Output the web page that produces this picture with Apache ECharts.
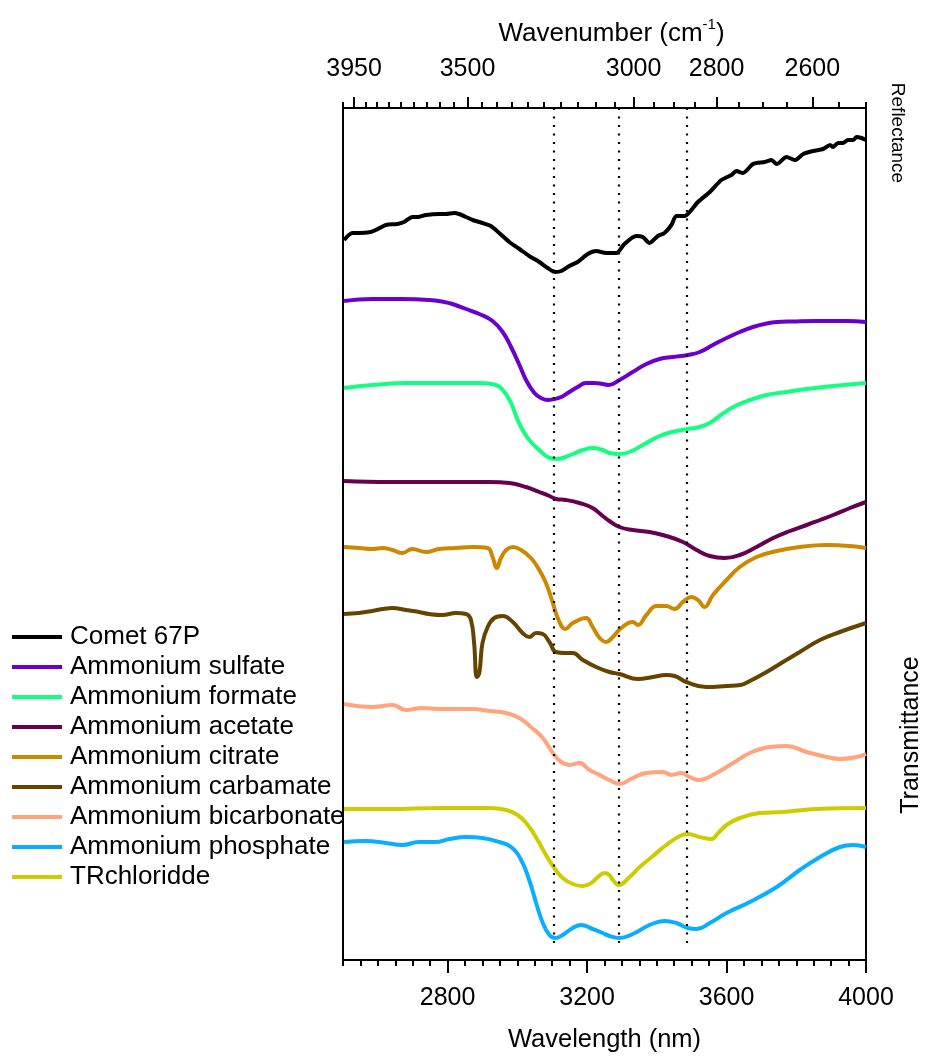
<!DOCTYPE html>
<html><head><meta charset="utf-8">
<script src="https://cdn.jsdelivr.net/npm/echarts@6/dist/echarts.min.js"></script>
<style>html,body{margin:0;padding:0;background:#fff}#c{width:929px;height:1056px}</style>
</head><body><div id="c"></div>
<script>
// ---- data ----
const wavelengthMin = 2500, wavelengthMax = 4000;
const bottomTickLabels = [2800, 3200, 3600, 4000];          // nm
const topTickLabels = [3950, 3500, 3000, 2800, 2600];        // cm-1
const markerWavelengths = [3105, 3292, 3485];                // nm, dotted lines

const seriesNames = ['Comet 67P','Ammonium sulfate','Ammonium formate','Ammonium acetate','Ammonium citrate','Ammonium carbamate','Ammonium bicarbonate','Ammonium phosphate','TRchloridde'];
const seriesColors = ['#000000','#6a00cc','#14ff82','#660050','#cc8800','#664400','#ffa47f','#0aaeff','#cccc00'];

// [wavelength nm, offset signal (arb.)]
const comet67P = [[2503,72.0],[2527,72.7],[2546,72.7],[2580,72.8],[2594,73.0],[2623,73.5],[2656,73.6],[2675,73.8],[2699,74.3],[2714,74.3],[2738,74.5],[2776,74.6],[2795,74.6],[2819,74.7],[2833,74.6],[2853,74.3],[2872,74.0],[2900,73.7],[2924,73.4],[2948,72.7],[2977,71.8],[3006,71.1],[3034,70.4],[3063,69.8],[3087,69.2],[3109,68.8],[3126,68.9],[3149,69.4],[3173,69.8],[3202,70.6],[3226,70.9],[3255,70.7],[3284,70.7],[3307,71.6],[3341,72.4],[3360,72.3],[3379,71.7],[3403,72.4],[3422,72.7],[3442,73.5],[3456,74.4],[3480,74.4],[3494,74.8],[3518,75.8],[3552,76.8],[3585,78.0],[3614,78.5],[3628,78.9],[3647,78.7],[3676,79.6],[3710,79.8],[3729,80.0],[3744,79.6],[3772,80.3],[3796,80.0],[3820,80.6],[3849,80.9],[3877,81.1],[3897,81.5],[3905,81.3],[3920,81.7],[3934,81.7],[3948,82.0],[3963,82.0],[3973,82.3],[3987,82.2],[4000,82.0]];
const ammoniumSulfate = [[2503,65.9],[2584,66.1],[2670,66.1],[2747,66.0],[2790,65.8],[2814,65.6],[2853,65.1],[2891,64.6],[2929,63.9],[2958,62.8],[2982,61.3],[3006,59.5],[3025,58.0],[3049,56.7],[3068,56.2],[3087,56.0],[3106,56.1],[3126,56.3],[3149,56.8],[3173,57.3],[3197,57.7],[3221,57.7],[3245,57.6],[3262,57.5],[3293,58.0],[3331,58.8],[3370,59.6],[3408,60.1],[3446,60.3],[3489,60.5],[3523,60.8],[3561,61.5],[3600,62.2],[3638,62.8],[3676,63.3],[3715,63.65],[3745,63.8],[3790,63.85],[3858,63.9],[3945,63.9],[4000,63.8]];
const ammoniumFormate = [[2503,57.2],[2584,57.5],[2680,57.7],[2776,57.7],[2891,57.7],[2939,57.5],[2963,56.8],[2982,55.7],[3001,54.0],[3020,52.7],[3039,51.8],[3063,51.0],[3087,50.3],[3111,50.1],[3130,50.2],[3159,50.6],[3188,51.0],[3216,51.2],[3245,51.0],[3264,50.7],[3293,50.6],[3322,50.8],[3360,51.5],[3408,52.4],[3446,52.8],[3489,53.1],[3523,53.3],[3552,53.7],[3580,54.4],[3619,55.3],[3667,56.0],[3715,56.5],[3772,56.8],[3830,57.1],[3906,57.4],[4000,57.7]];
const ammoniumAcetate = [[2503,47.9],[2632,47.8],[2776,47.8],[2920,47.8],[2977,47.7],[3025,47.3],[3063,46.8],[3092,46.4],[3111,46.1],[3140,46.0],[3178,45.7],[3216,45.2],[3245,44.4],[3264,43.9],[3293,43.3],[3331,43.0],[3379,42.8],[3427,42.4],[3475,41.8],[3514,41.0],[3552,40.4],[3595,40.2],[3638,40.5],[3686,41.3],[3734,42.2],[3782,42.9],[3830,43.5],[3868,44.0],[3906,44.5],[3954,45.2],[4000,45.8]];
const ammoniumCitrate = [[2503,41.3],[2546,41.2],[2584,41.1],[2613,41.2],[2642,41.0],[2670,40.7],[2699,41.1],[2738,40.8],[2776,41.1],[2824,41.2],[2872,41.3],[2915,41.2],[2929,40.3],[2941,39.2],[2953,40.2],[2968,41.0],[2987,41.3],[3011,41.0],[3039,40.2],[3063,39.0],[3082,37.7],[3101,35.8],[3116,34.2],[3138,33.1],[3159,33.7],[3197,34.2],[3216,33.3],[3236,32.2],[3255,31.8],[3274,32.3],[3298,33.2],[3331,33.8],[3346,33.5],[3370,34.5],[3399,35.4],[3427,35.4],[3451,35.1],[3475,35.8],[3499,36.3],[3518,36.0],[3537,35.3],[3561,36.5],[3600,38.0],[3638,39.3],[3686,40.3],[3744,40.9],[3810,41.3],[3887,41.5],[3954,41.4],[4000,41.2]];
const ammoniumCarbamate = [[2503,34.6],[2546,34.7],[2584,34.9],[2613,35.1],[2642,35.2],[2680,35.0],[2718,34.8],[2747,34.6],[2785,34.5],[2824,34.7],[2853,34.6],[2867,34.0],[2876,31.7],[2884,28.3],[2891,28.7],[2900,31.7],[2915,33.3],[2934,34.2],[2958,34.4],[2987,33.8],[3015,32.7],[3034,32.3],[3054,32.7],[3073,32.6],[3092,31.8],[3111,30.8],[3140,30.7],[3159,30.7],[3188,30.0],[3226,29.3],[3264,28.8],[3293,28.6],[3346,28.1],[3389,28.3],[3427,28.5],[3451,28.4],[3485,27.8],[3542,27.3],[3600,27.4],[3640,27.5],[3667,27.9],[3715,28.8],[3762,29.8],[3810,30.8],[3868,32.0],[3925,32.8],[4000,33.7]];
const ammoniumBicarbonate = [[2503,25.6],[2584,25.3],[2642,25.5],[2680,25.0],[2728,25.2],[2776,25.1],[2824,25.1],[2872,25.1],[2920,24.9],[2968,24.7],[3006,24.2],[3039,23.3],[3073,22.2],[3106,20.5],[3126,19.8],[3149,19.5],[3178,19.7],[3207,19.0],[3236,18.5],[3264,18.0],[3293,17.6],[3331,18.2],[3370,18.7],[3418,18.8],[3442,18.5],[3470,18.7],[3494,18.3],[3523,18.0],[3561,18.5],[3619,19.7],[3667,20.7],[3724,21.3],[3772,21.4],[3830,20.8],[3887,20.3],[3925,20.1],[3973,20.3],[4000,20.6]];
const ammoniumPhosphate = [[2503,11.8],[2565,11.9],[2623,11.7],[2670,11.5],[2718,11.8],[2766,11.8],[2805,12.1],[2853,12.3],[2900,12.2],[2948,11.8],[2982,11.3],[3011,10.0],[3034,8.0],[3054,5.7],[3073,3.7],[3092,2.5],[3109,2.2],[3130,2.5],[3159,3.2],[3183,3.5],[3216,3.1],[3245,2.7],[3264,2.4],[3293,2.2],[3331,2.6],[3379,3.5],[3422,3.9],[3456,3.7],[3489,3.2],[3514,3.1],[3552,3.7],[3600,4.7],[3667,5.8],[3744,7.3],[3810,9.0],[3868,10.3],[3925,11.3],[3963,11.5],[4000,11.3]];
const trChloridde = [[2503,15.1],[2632,15.1],[2776,15.2],[2920,15.2],[2968,15.0],[3001,14.5],[3030,13.5],[3058,12.0],[3082,10.5],[3106,9.2],[3130,8.2],[3159,7.6],[3188,7.4],[3212,7.7],[3231,8.3],[3250,8.7],[3264,8.5],[3274,8.0],[3291,7.5],[3322,8.3],[3351,9.3],[3389,10.4],[3427,11.5],[3466,12.4],[3489,12.6],[3523,12.3],[3557,12.1],[3576,12.7],[3600,13.5],[3638,14.2],[3695,14.7],[3762,14.8],[3858,15.1],[4000,15.2]];

const seriesData = [comet67P, ammoniumSulfate, ammoniumFormate, ammoniumAcetate, ammoniumCitrate, ammoniumCarbamate, ammoniumBicarbonate, ammoniumPhosphate, trChloridde];
const yMin = 0, yMax = 85.2;
const markerTop = 85.2, markerBottom = 1.5;

// ---- derived ticks ----
const bottomMinorTicks = [];
for (let w = wavelengthMin; w <= wavelengthMax; w += 50) bottomMinorTicks.push(w);
const topMinorTicks = [];
for (let k = 4000; k >= 2500; k -= 50) topMinorTicks.push(1e7 / k);
const topMajorPositions = topTickLabels.map(k => 1e7 / k);

const FONT = '"Liberation Sans", Arial, sans-serif';
const chart = echarts.init(document.getElementById('c'), null, {renderer: 'canvas'});

const gridBox = {left: 343, top: 108, width: 523, height: 852, outerBoundsMode: 'none', containLabel: false};
const axisLine = {show: true, lineStyle: {color: '#000', width: 2}};

const series = seriesData.map((d, i) => ({
  name: seriesNames[i],
  type: 'line',
  xAxisIndex: 0, yAxisIndex: 0,
  data: d,
  symbol: 'none', showSymbol: false,
  smooth: i === 0 ? 0.25 : 0.45,
  lineStyle: {color: seriesColors[i], width: 4},
  itemStyle: {color: seriesColors[i]},
  z: 3
}));
series[0].markLine = {
  silent: true, symbol: ['none', 'none'], label: {show: false}, animation: false,
  lineStyle: {color: '#000', width: 2.2, type: [2, 6.5]},
  emphasis: {disabled: true},
  data: markerWavelengths.map(w => [{coord: [w, markerTop]}, {coord: [w, markerBottom]}])
};

const option = {
  animation: false,
  backgroundColor: '#fff',
  textStyle: {fontFamily: FONT, color: '#000'},
  grid: [Object.assign({}, gridBox), Object.assign({}, gridBox)],
  xAxis: [
    { gridIndex: 0, type: 'value', position: 'bottom', min: wavelengthMin, max: wavelengthMax,
      axisLine: axisLine, splitLine: {show: false},
      axisTick: {show: true, inside: false, length: 13, lineStyle: {color: '#000', width: 2}, customValues: bottomTickLabels},
      axisLabel: {show: true, margin: 26, fontSize: 25, fontFamily: FONT, color: '#000', customValues: bottomTickLabels,
        formatter: v => String(v)},
      name: 'Wavelength (nm)', nameLocation: 'middle', nameGap: 67,
      nameTextStyle: {fontSize: 25.5, fontFamily: FONT, color: '#000'} },
    { gridIndex: 0, type: 'value', position: 'top', min: wavelengthMin, max: wavelengthMax,
      axisLine: axisLine, splitLine: {show: false},
      axisTick: {show: true, inside: false, length: 11, lineStyle: {color: '#000', width: 2}, customValues: topMajorPositions},
      axisLabel: {show: true, margin: 26, fontSize: 25, fontFamily: FONT, color: '#000', customValues: topMajorPositions,
        formatter: v => String(Math.round(1e7 / v))},
      name: '{a|Wavenumber (cm}{b|-1}{a|)}', nameLocation: 'middle', nameGap: 61,
      nameTextStyle: {padding: [0, 0, 0, 14], rich: {
        a: {fontSize: 26, fontFamily: FONT, color: '#000', lineHeight: 30, verticalAlign: 'bottom'},
        b: {fontSize: 15, fontFamily: FONT, color: '#000', lineHeight: 15, padding: [0, 0, 20, 0], verticalAlign: 'top'}
      }} },
    { gridIndex: 1, type: 'value', position: 'bottom', min: wavelengthMin, max: wavelengthMax,
      axisLine: {show: false}, splitLine: {show: false}, axisLabel: {show: false},
      axisTick: {show: true, inside: false, length: 6, lineStyle: {color: '#000', width: 2}, customValues: bottomMinorTicks} },
    { gridIndex: 1, type: 'value', position: 'top', min: wavelengthMin, max: wavelengthMax,
      axisLine: {show: false}, splitLine: {show: false}, axisLabel: {show: false},
      axisTick: {show: true, inside: false, length: 6, lineStyle: {color: '#000', width: 2}, customValues: topMinorTicks} }
  ],
  yAxis: [
    { gridIndex: 0, type: 'value', position: 'left', min: yMin, max: yMax,
      axisLine: axisLine, axisTick: {show: false}, axisLabel: {show: false}, splitLine: {show: false} },
    { gridIndex: 1, type: 'value', position: 'right', min: yMin, max: yMax,
      axisLine: axisLine, axisTick: {show: false}, axisLabel: {show: false}, splitLine: {show: false} }
  ],
  legend: {
    orient: 'vertical', left: 7, top: 617, selectedMode: false,
    icon: 'rect', itemWidth: 50, itemHeight: 4, itemGap: 0,
    textStyle: {fontSize: 26, lineHeight: 30, fontFamily: FONT, color: '#000', padding: [0, 0, 0, 3]},
    data: seriesNames
  },
  graphic: [
    {type: 'text', x: 897, y: 133, rotation: -Math.PI / 2, silent: true,
      style: {text: 'Reflectance', fontSize: 19, fontFamily: FONT, fill: '#000', align: 'center', verticalAlign: 'middle'}},
    {type: 'text', x: 911, y: 735, rotation: Math.PI / 2, silent: true,
      style: {text: 'Transmittance', fontSize: 25, fontFamily: FONT, fill: '#000', align: 'center', verticalAlign: 'middle'}}
  ],
  series: series
};
chart.setOption(option);
</script></body></html>
